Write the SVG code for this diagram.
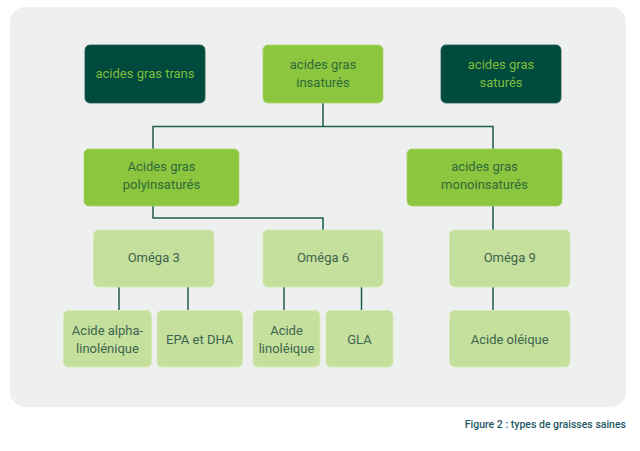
<svg xmlns="http://www.w3.org/2000/svg" width="640" height="451" viewBox="0 0 640 451">
<style>
text{font-family:Roboto,"Liberation Sans",sans-serif;font-size:13px;text-anchor:middle}
.dark rect{fill:#004a3e;stroke:#1d5a4c;stroke-width:0.8}
.dark text{fill:#7fbe3c}
.mid rect{fill:#8cc63f;stroke:#a6d466;stroke-width:0.8}
.mid text{fill:#2f6a3a}
.pale rect{fill:#c5df9c;stroke:#d3e7b3;stroke-width:0.8}
.pale text{fill:#3d6650}
#connectors{fill:none;stroke:#1e5c4f;stroke-width:1.5}
</style>
<rect x="0" y="0" width="640" height="451" fill="#ffffff"/>
<rect x="10" y="7" width="616" height="400" rx="15" fill="#eef0ef"/>
<g id="connectors">
<path d="M323 103V126.5M153 149V126.5H493V149"/>
<path d="M153 206V218H323V230M493 206V230"/>
<path d="M119 287V310M188 287V310M284 287V310M361.5 287V310M493 287V310"/>
</g>
<g id="trans" class="dark"><rect x="85" y="45" width="120" height="58" rx="5"/><text x="145" y="77.5">acides gras trans</text></g>
<g id="insatures" class="mid"><rect x="263" y="45" width="120" height="58" rx="5"/><text x="323" y="68.5">acides gras</text><text x="323" y="86.5">insaturés</text></g>
<g id="satures" class="dark"><rect x="441" y="45" width="120" height="58" rx="5"/><text x="501" y="68.5">acides gras</text><text x="501" y="86.5">saturés</text></g>
<g id="poly" class="mid"><rect x="84" y="149" width="155" height="57" rx="5"/><text x="161.5" y="171">Acides gras</text><text x="161.5" y="189">polyinsaturés</text></g>
<g id="mono" class="mid"><rect x="407" y="149" width="155" height="57" rx="5"/><text x="484.5" y="171">acides gras</text><text x="484.5" y="189">monoinsaturés</text></g>
<g id="omega3" class="pale"><rect x="93.5" y="230" width="120.5" height="57" rx="5"/><text x="153.7" y="261.5">Oméga 3</text></g>
<g id="omega6" class="pale"><rect x="263" y="230" width="120" height="57" rx="5"/><text x="323" y="261.5">Oméga 6</text></g>
<g id="omega9" class="pale"><rect x="449.5" y="230" width="120.5" height="57" rx="5"/><text x="509.7" y="261.5">Oméga 9</text></g>
<g id="ala" class="pale"><rect x="63.5" y="310.5" width="88" height="56.5" rx="5"/><text x="107.5" y="334.5">Acide alpha-</text><text x="107.5" y="352.5">linolénique</text></g>
<g id="epa" class="pale"><rect x="157" y="310.5" width="85.5" height="56.5" rx="5"/><text x="199.7" y="343.5">EPA et DHA</text></g>
<g id="la" class="pale"><rect x="253" y="310.5" width="67" height="56.5" rx="5"/><text x="286.5" y="334.5">Acide</text><text x="286.5" y="352.5">linoléique</text></g>
<g id="gla" class="pale"><rect x="326" y="310.5" width="67" height="56.5" rx="5"/><text x="359.5" y="343.5">GLA</text></g>
<g id="oleique" class="pale"><rect x="449.5" y="310.5" width="120.5" height="56.5" rx="5"/><text x="509.7" y="343.5">Acide oléique</text></g>
<text x="626" y="428" style="text-anchor:end;font-size:10.5px;font-weight:500;fill:#1f5866">Figure 2 : types de graisses saines</text>
</svg>
